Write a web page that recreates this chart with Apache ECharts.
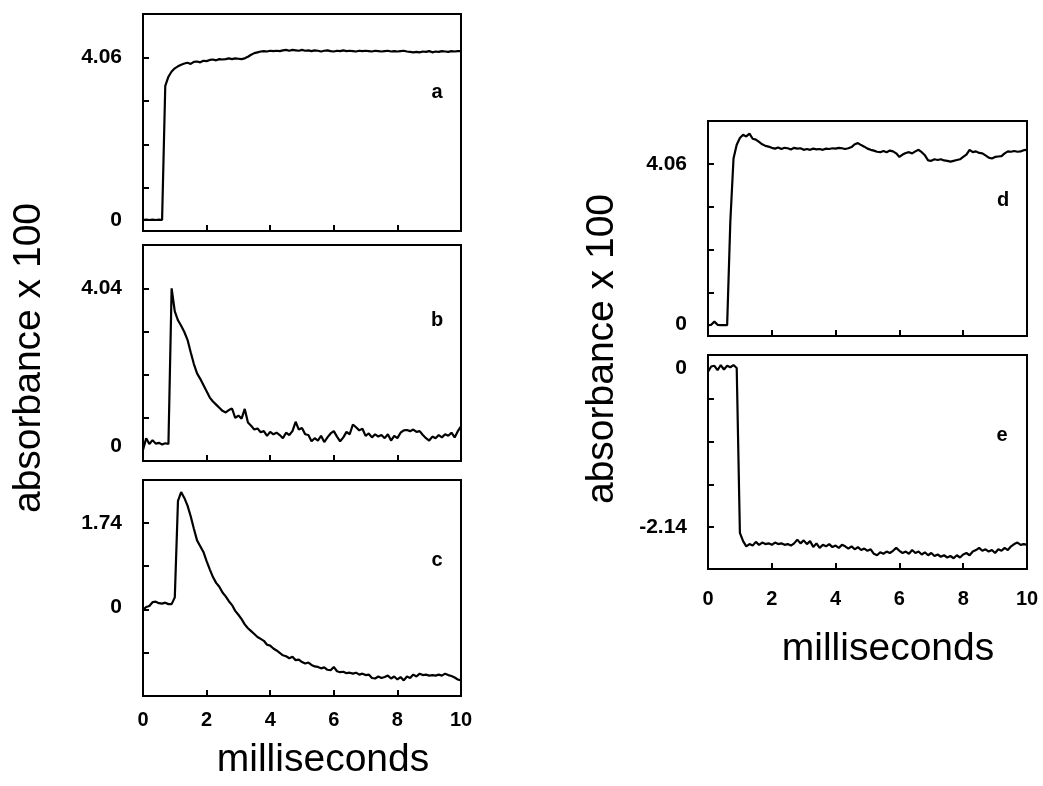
<!DOCTYPE html>
<html>
<head>
<meta charset="utf-8">
<script src="https://cdn.jsdelivr.net/npm/echarts@6/dist/echarts.min.js"></script>
<style>
html,body{margin:0;padding:0;background:#fff;}
#chart{width:1043px;height:786px;}
</style>
</head>
<body>
<div id="chart"></div>
<script>
// ---- data (time in ms, absorbance x 100) ----
const times = [0.0,0.1,0.2,0.3,0.4,0.5,0.6,0.7,0.8,0.9,1.0,1.1,1.2,1.3,1.4,1.5,1.6,1.7,1.8,1.9,2.0,2.1,2.2,2.3,2.4,2.5,2.6,2.7,2.8,2.9,3.0,3.1,3.2,3.3,3.4,3.5,3.6,3.7,3.8,3.9,4.0,4.1,4.2,4.3,4.4,4.5,4.6,4.7,4.8,4.9,5.0,5.1,5.2,5.3,5.4,5.5,5.6,5.7,5.8,5.9,6.0,6.1,6.2,6.3,6.4,6.5,6.6,6.7,6.8,6.9,7.0,7.1,7.2,7.3,7.4,7.5,7.6,7.7,7.8,7.9,8.0,8.1,8.2,8.3,8.4,8.5,8.6,8.7,8.8,8.9,9.0,9.1,9.2,9.3,9.4,9.5,9.6,9.7,9.8,9.9,10.0];

const traceA = [0.00,0.01,0.00,0.01,0.00,0.01,0.00,3.35,3.58,3.71,3.79,3.84,3.88,3.91,3.93,3.90,3.95,3.96,3.94,3.98,3.97,4.00,4.01,3.99,4.02,4.01,4.02,4.04,4.02,4.04,4.03,4.02,4.04,4.08,4.13,4.17,4.19,4.21,4.22,4.21,4.23,4.22,4.23,4.22,4.24,4.25,4.23,4.25,4.24,4.23,4.25,4.23,4.24,4.22,4.24,4.23,4.21,4.23,4.24,4.22,4.21,4.23,4.22,4.24,4.22,4.23,4.22,4.21,4.23,4.22,4.23,4.22,4.21,4.23,4.22,4.21,4.22,4.23,4.21,4.22,4.21,4.22,4.23,4.21,4.20,4.19,4.20,4.19,4.21,4.20,4.22,4.19,4.21,4.20,4.22,4.21,4.20,4.22,4.21,4.22,4.22];

const traceB = [-0.10,0.20,0.05,0.15,0.06,0.08,0.04,0.07,0.05,4.04,3.45,3.22,3.08,2.92,2.72,2.40,2.10,1.86,1.72,1.56,1.40,1.24,1.14,1.06,0.98,0.90,0.86,0.92,0.96,0.72,0.78,0.70,0.95,0.60,0.52,0.42,0.45,0.35,0.38,0.26,0.36,0.30,0.34,0.28,0.20,0.34,0.28,0.38,0.62,0.42,0.46,0.30,0.28,0.12,0.20,0.14,0.26,0.10,0.22,0.32,0.38,0.24,0.12,0.22,0.36,0.30,0.55,0.48,0.40,0.44,0.26,0.32,0.22,0.30,0.24,0.28,0.20,0.30,0.14,0.26,0.20,0.34,0.40,0.41,0.38,0.42,0.36,0.38,0.28,0.20,0.14,0.24,0.20,0.28,0.22,0.30,0.26,0.34,0.22,0.38,0.50];

const traceC = [-0.06,0.00,0.02,0.10,0.11,0.08,0.07,0.09,0.06,0.06,0.20,2.20,2.38,2.26,2.10,1.88,1.62,1.38,1.26,1.14,0.95,0.78,0.62,0.50,0.42,0.30,0.22,0.12,0.04,-0.08,-0.16,-0.25,-0.36,-0.44,-0.50,-0.56,-0.62,-0.66,-0.70,-0.78,-0.80,-0.86,-0.90,-0.95,-1.00,-1.02,-1.06,-1.03,-1.10,-1.09,-1.14,-1.17,-1.15,-1.20,-1.23,-1.24,-1.27,-1.25,-1.30,-1.31,-1.24,-1.33,-1.35,-1.34,-1.37,-1.36,-1.38,-1.36,-1.40,-1.38,-1.41,-1.40,-1.47,-1.48,-1.44,-1.47,-1.45,-1.42,-1.48,-1.44,-1.50,-1.45,-1.52,-1.44,-1.47,-1.40,-1.44,-1.38,-1.41,-1.40,-1.42,-1.41,-1.42,-1.40,-1.42,-1.38,-1.41,-1.43,-1.46,-1.50,-1.52];

const traceD = [-0.03,-0.02,0.06,-0.02,-0.03,-0.03,-0.03,2.60,4.20,4.55,4.72,4.80,4.76,4.83,4.70,4.68,4.62,4.56,4.52,4.50,4.47,4.45,4.48,4.44,4.47,4.46,4.43,4.47,4.45,4.46,4.42,4.44,4.42,4.45,4.43,4.44,4.42,4.45,4.44,4.46,4.45,4.47,4.46,4.44,4.46,4.49,4.56,4.59,4.54,4.50,4.45,4.42,4.40,4.37,4.36,4.39,4.36,4.40,4.38,4.33,4.24,4.30,4.34,4.36,4.33,4.38,4.42,4.36,4.28,4.15,4.14,4.18,4.16,4.18,4.15,4.14,4.12,4.14,4.16,4.18,4.24,4.30,4.42,4.36,4.38,4.34,4.33,4.28,4.22,4.20,4.24,4.25,4.26,4.33,4.38,4.37,4.39,4.37,4.38,4.41,4.42];

const traceE = [-0.05,0.02,0.03,-0.03,0.04,-0.02,0.03,0.01,0.04,0.00,-2.22,-2.33,-2.40,-2.37,-2.39,-2.34,-2.38,-2.35,-2.37,-2.36,-2.38,-2.35,-2.37,-2.36,-2.38,-2.37,-2.39,-2.36,-2.31,-2.36,-2.32,-2.37,-2.33,-2.41,-2.36,-2.42,-2.38,-2.40,-2.37,-2.41,-2.39,-2.42,-2.38,-2.40,-2.43,-2.40,-2.44,-2.41,-2.45,-2.43,-2.46,-2.44,-2.50,-2.52,-2.48,-2.50,-2.47,-2.49,-2.46,-2.42,-2.46,-2.49,-2.47,-2.50,-2.45,-2.49,-2.47,-2.51,-2.48,-2.52,-2.49,-2.53,-2.51,-2.54,-2.52,-2.55,-2.53,-2.56,-2.52,-2.55,-2.51,-2.49,-2.52,-2.47,-2.45,-2.42,-2.46,-2.44,-2.47,-2.45,-2.49,-2.44,-2.46,-2.42,-2.45,-2.40,-2.37,-2.35,-2.38,-2.37,-2.38];

// axis ranges, tick values and labelled values per panel
const yRangeA = [-0.275, 5.1475]; const yTicksA = [0.7975, 1.885, 2.9725, 4.06]; const yLabelsA = [0, 4.06];
const yRangeB = [-0.385, 5.15];   const yTicksB = [0.713, 1.822, 2.931, 4.04];   const yLabelsB = [0, 4.04];
const yRangeC = [-1.843, 2.631];  const yTicksC = [-0.945, -0.05, 0.845, 1.74];  const yLabelsC = [0, 1.74];
const yRangeD = [-0.3045, 5.151]; const yTicksD = [0.787, 1.878, 2.969, 4.06];   const yLabelsD = [0, 4.06];
const yRangeE = [-2.705, 0.175];  const yTicksE = [-2.14, -1.5655, -0.991, -0.4165]; const yLabelsE = [0, -2.14];
const panelNames = ['a', 'b', 'c', 'd', 'e'];
const yTitle = 'absorbance x 100';
const xTitle = 'milliseconds';

// ---- layout ----
const grids = [
  {left: 143, top: 14,  width: 318, height: 217},
  {left: 143, top: 245, width: 318, height: 216},
  {left: 143, top: 480, width: 318, height: 216},
  {left: 708, top: 121, width: 319, height: 215},
  {left: 708, top: 355, width: 319, height: 214}
];
const traces = [traceA, traceB, traceC, traceD, traceE];
const ranges = [yRangeA, yRangeB, yRangeC, yRangeD, yRangeE];
const ticks = [yTicksA, yTicksB, yTicksC, yTicksD, yTicksE];
const labels = [yLabelsA, yLabelsB, yLabelsC, yLabelsD, yLabelsE];
const showX = [false, false, true, false, true];
const xMargin = [14, 14, 14, 20, 20];

const FONT = "'Liberation Sans', Arial, Helvetica, sans-serif";
const lineCol = '#000';

const option = {
  animation: false,
  backgroundColor: '#fff',
  grid: grids.map(g => Object.assign({show: true, borderColor: lineCol, borderWidth: 2, backgroundColor: 'transparent'}, g)),
  xAxis: grids.map((g, i) => ({
    type: 'value', gridIndex: i, min: 0, max: 10, interval: 2,
    axisLine: {show: true, onZero: false, lineStyle: {color: lineCol, width: 2}},
    axisTick: {show: true, inside: true, length: 6, lineStyle: {color: lineCol, width: 2}},
    axisLabel: {show: showX[i], color: lineCol, fontFamily: FONT, fontWeight: 'bold', fontSize: 20, margin: xMargin[i]},
    splitLine: {show: false}
  })),
  yAxis: grids.map((g, i) => ({
    type: 'value', gridIndex: i, min: ranges[i][0], max: ranges[i][1],
    axisLine: {show: true, onZero: false, lineStyle: {color: lineCol, width: 2}},
    axisTick: {show: true, inside: true, length: 6, customValues: ticks[i], lineStyle: {color: lineCol, width: 2}},
    axisLabel: {show: true, customValues: labels[i], color: lineCol, fontFamily: FONT, fontWeight: 'bold', fontSize: 21, margin: 21,
      formatter: v => String(v)},
    splitLine: {show: false}
  })),
  series: traces.map((tr, i) => ({
    type: 'line', xAxisIndex: i, yAxisIndex: i,
    data: times.map((t, k) => [t, tr[k]]),
    symbol: 'none', showSymbol: false, smooth: false,
    lineStyle: {color: lineCol, width: 2.2},
    silent: true
  })),
  graphic: [
    {type: 'text', x: 29, y: 358, rotation: Math.PI / 2,
     style: {text: yTitle, fontSize: 39, fontFamily: FONT, fill: '#000', align: 'center', verticalAlign: 'middle'}},
    {type: 'text', x: 602, y: 349, rotation: Math.PI / 2,
     style: {text: yTitle, fontSize: 39, fontFamily: FONT, fill: '#000', align: 'center', verticalAlign: 'middle'}},
    {type: 'text', x: 323, y: 760,
     style: {text: xTitle, fontSize: 39, fontFamily: FONT, fill: '#000', align: 'center', verticalAlign: 'middle'}},
    {type: 'text', x: 888, y: 649,
     style: {text: xTitle, fontSize: 39, fontFamily: FONT, fill: '#000', align: 'center', verticalAlign: 'middle'}},
    {type: 'text', x: 437, y: 92,  style: {text: panelNames[0], fontSize: 20, fontWeight: 'bold', fontFamily: FONT, fill: '#000', align: 'center', verticalAlign: 'middle'}},
    {type: 'text', x: 437, y: 320, style: {text: panelNames[1], fontSize: 20, fontWeight: 'bold', fontFamily: FONT, fill: '#000', align: 'center', verticalAlign: 'middle'}},
    {type: 'text', x: 437, y: 560, style: {text: panelNames[2], fontSize: 20, fontWeight: 'bold', fontFamily: FONT, fill: '#000', align: 'center', verticalAlign: 'middle'}},
    {type: 'text', x: 1003, y: 200, style: {text: panelNames[3], fontSize: 20, fontWeight: 'bold', fontFamily: FONT, fill: '#000', align: 'center', verticalAlign: 'middle'}},
    {type: 'text', x: 1002, y: 435, style: {text: panelNames[4], fontSize: 20, fontWeight: 'bold', fontFamily: FONT, fill: '#000', align: 'center', verticalAlign: 'middle'}}
  ]
};

const chart = echarts.init(document.getElementById('chart'), null, {renderer: 'canvas'});
chart.setOption(option);
</script>
</body>
</html>
